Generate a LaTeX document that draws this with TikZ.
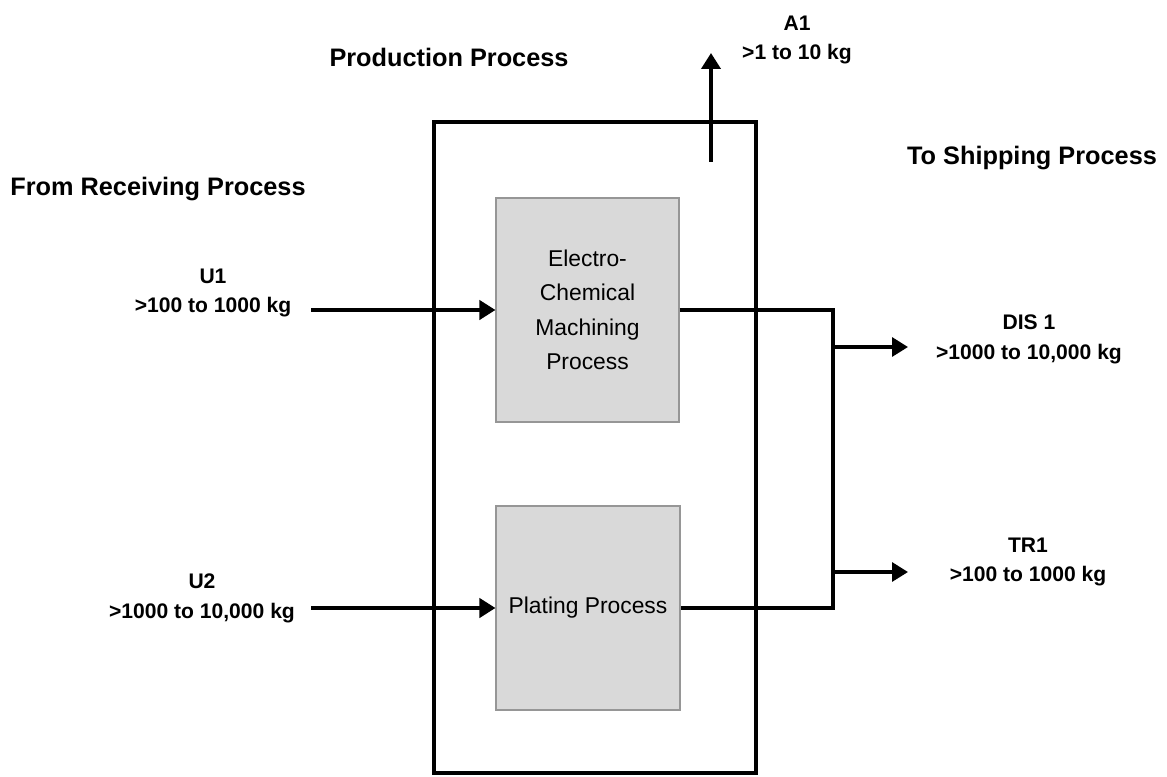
\documentclass[tikz,border=0pt]{standalone}
\usepackage{fontspec}
\setmainfont{Liberation Sans}
\usetikzlibrary{arrows.meta}
\definecolor{boxfill}{RGB}{217,217,217}
\definecolor{boxedge}{RGB}{150,150,150}

\begin{document}
\begin{tikzpicture}[
  x=0.02cm, y=-0.02cm,
  heading/.style={font=\fontsize{14.4}{17}\selectfont\bfseries, inner sep=0pt},
  flowlabel/.style={font=\fontsize{12}{17}\selectfont\bfseries, align=center, inner sep=0pt},
  stage/.style={draw=boxedge, line width=0.6pt, fill=boxfill, inner sep=0pt,
    font=\fontsize{13}{19.6}\selectfont, align=center},
  plant/.style={draw, line width=2.6pt, inner sep=0pt},
  pipe/.style={line width=1.8pt},
  flow/.style={pipe, -{Triangle[length=0.32cm, width=0.38cm]}},
  feed/.style={flow, line width=2.2pt}
]
  \useasboundingbox (0,0) rectangle (1167,777);

  % process area and the two stages inside it
  \node[plant, minimum width=6.44cm, minimum height=13.02cm] (prod) at (595,447.5) {};
  \node[stage, minimum width=3.66cm, minimum height=4.48cm] (ecm) at (587.5,310)
    {Electro-\\Chemical\\Machining\\Process};
  \node[stage, minimum width=3.68cm, minimum height=4.08cm] (plating) at (588,608)
    {Plating Process};

  \node[heading] (prodtitle) at (449,57) {Production Process};
  \node[heading] (fromrecv) at (158,189) {From Receiving Process};
  \node[heading] (toship) at (1032,158) {To Shipping Process};

  \node[flowlabel] (u1) at (213,293) {U1\\>100 to 1000 kg};
  \node[flowlabel] (u2) at (202,598) {U2\\>1000 to 10,000 kg};
  \node[flowlabel] (a1) at (797,40) {A1\\>1 to 10 kg};
  \node[flowlabel] (dis1) at (1029,339) {DIS 1\\>1000 to 10,000 kg};
  \node[flowlabel] (tr1) at (1028,562) {TR1\\>100 to 1000 kg};

  \coordinate (u1in) at (311,310);
  \coordinate (u2in) at (311,608);
  \coordinate (a1out) at (711,162);
  \coordinate (a1tip) at (711,53);
  \coordinate (bus) at (833,0);
  \coordinate (distip) at (908,347);
  \coordinate (trtip) at (908,572);

  \draw[feed] (u1in) -- (ecm.west);
  \draw[feed] (u2in) -- (plating.west);
  \draw[feed] (a1out) -- (a1tip);
  \draw[pipe] (ecm.east) -| (bus |- plating.east) -- (plating.east);
  \draw[flow] (bus |- distip) -- (distip);
  \draw[flow] (bus |- trtip) -- (trtip);
\end{tikzpicture}
\end{document}
